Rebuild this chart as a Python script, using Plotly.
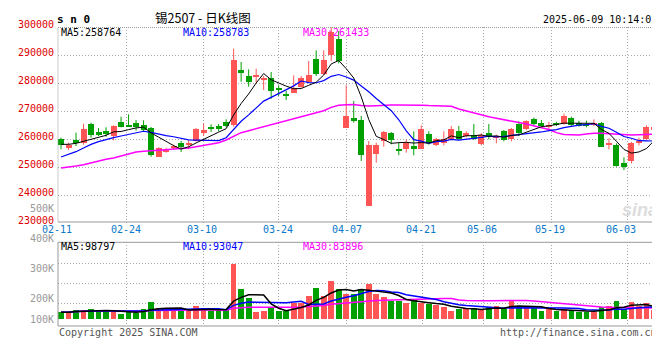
import plotly.graph_objects as go
import pandas as pd

# ---------------- data ----------------
dates = ["02-11","02-12","02-13","02-14","02-17","02-18","02-19","02-20","02-21","02-24","02-25","02-26","02-27","02-28",
         "03-03","03-04","03-05","03-06","03-07","03-10","03-11","03-12","03-13","03-14","03-17","03-18","03-19","03-20","03-21",
         "03-24","03-25","03-26","03-27","03-28","03-31",
         "04-01","04-02","04-03","04-07","04-08","04-09","04-10","04-11","04-14","04-15","04-16","04-17","04-18",
         "04-21","04-22","04-23","04-24","04-25","04-28","04-29","04-30",
         "05-06","05-07","05-08","05-09","05-12","05-13","05-14","05-15","05-16","05-19","05-20","05-21","05-22","05-23",
         "05-26","05-27","05-28","05-29","05-30",
         "06-03","06-04","06-05","06-06","06-09"]

opens = [260120,256790,259640,258450,265240,262500,262980,261070,266070,265000,
         265590,265120,263930,253690,255360,256790,258690,257980,259290,262260,
         264400,264640,266190,264880,284760,282500,282260,281190,281900,278330,
         276070,276550,278570,280480,288450,283100,290120,295600,264050,267380,
         266790,236070,254520,259290,262260,256550,256550,257500,256550,261790,
         257740,258450,260120,262980,261070,261310,258210,262260,260360,262860,
         260120,265360,263450,267020,265590,264170,265830,265360,267500,265590,
         265360,265120,265830,257860,257980,251550,252140,258690,259880,263210]
highs = [260480,258690,262260,265480,265830,263930,264170,264880,267980,268810,
         266790,266670,264290,257020,256900,257980,259290,259520,263930,265590,
         265240,265360,267020,292260,287500,284880,285120,282500,283930,279170,
         277140,282740,282500,287860,291670,291670,299900,298570,279170,273570,
         268210,259290,258690,262860,262500,258690,259880,262740,264880,262740,
         260360,262740,264640,264640,262740,265360,262020,265360,261550,263210,
         263930,266310,266670,267620,266790,266070,266190,269050,267980,266550,
         266550,267020,266070,260240,258450,253450,258930,260480,264880,264170]
lows = [256310,256070,257500,257980,260480,261070,260830,259520,264170,264400,
        262980,262500,253690,253570,255120,256310,255360,256310,259050,261070,
        262500,262740,264170,264400,280480,278690,280120,277500,274400,275360,
        273930,276550,278330,280480,282500,282860,287860,287020,264050,265830,
        252140,236070,251550,257260,258090,254170,255120,254170,256550,257980,
        257500,257740,259880,259640,260590,259640,257740,259880,258450,259170,
        259170,261070,263210,264880,264170,262740,264640,265120,264640,264400,
        264170,264640,257260,256310,250120,248930,251310,257740,259640,261670]
closes = [257860,257740,258450,263690,261310,261310,261790,264640,264400,264520,
          264400,263210,254400,256790,256310,257500,257020,258450,263690,263210,
          263450,263450,264640,288210,283690,280480,282980,281550,277020,277500,
          275360,278330,281900,282740,283100,288100,298210,287980,268210,266430,
          254400,257860,257860,262500,259640,255590,258450,256550,263450,258450,
          260120,259880,263690,260120,262020,260120,261310,261070,261070,259640,
          263450,262020,266310,265240,264880,265120,264880,268210,265120,264640,
          264640,265360,257260,258330,250360,250120,258690,259400,264400,264170]
volumes = [52340,52340,70660,70660,78510,57570,57570,62810,39260,62810,
           47110,78510,133470,83740,75890,60190,75890,60190,102060,83740,
           60190,60190,68040,426570,235530,162250,54960,62810,81130,62810,
           62810,123000,120380,180570,243380,180570,298340,235530,196280,191040,
           235530,274790,196280,172720,138700,138700,120380,146550,120380,115150,
           104680,94210,62810,73280,81130,86360,70660,94210,102060,73280,
           149170,94210,94210,81130,62810,81130,57570,73280,70660,54960,
           54960,52340,94210,102060,141320,73280,133470,99450,120380,65430]

# moving averages at the start of the window (they depend on earlier sessions)
ma5_head = [258100, 258100, 258450, 259170]
ma10_head = [253570, 254400, 255470, 256790, 258090, 259050, 259880, 260480, 261070]
ma30_head = [249640, 249880, 250360, 250830, 251550, 252140, 252740, 253210, 253930, 254640,
             255360, 255590, 255710, 255950, 256190, 256430, 256550, 256790, 257260, 257740,
             258210, 258690, 259640, 261070, 262260, 262980, 263690, 264170, 265120]

tick_labels = ["02-11", "02-24", "03-10", "03-24", "04-07", "04-21", "05-06", "05-19", "06-03"]
price_ticks = [300000, 290000, 280000, 270000, 260000, 250000, 240000, 230000]
vol_tick_labels = ["500K", "400K", "300K", "200K", "100K"]

head_main = ["MA5:258764", "MA10:258783", "MA30:261433"]
head_vol = ["MA5:98797", "MA10:93047", "MA30:83896"]

# ---------------- derived ----------------
n = len(closes)
idx = list(range(n))
cs = pd.Series(closes, dtype=float)
ma5 = cs.rolling(5).mean().tolist()
ma10 = cs.rolling(10).mean().tolist()
ma30 = cs.rolling(30).mean().tolist()
ma5[:len(ma5_head)] = ma5_head
ma10[:len(ma10_head)] = ma10_head
ma30[:len(ma30_head)] = ma30_head
vs = pd.Series(volumes, dtype=float)
vma5 = vs.rolling(5, min_periods=1).mean().tolist()
vma10 = vs.rolling(10, min_periods=1).mean().tolist()
vma30 = vs.rolling(30, min_periods=1).mean().tolist()

# ---------------- geometry ----------------
W, H = 660, 360
def px(x): return x / W
def py(y): return 1 - y / H

X0, DX = 53.0, 7.506          # pixel of first candle, pixel step
def xi(p): return (p - X0) / DX
x_range = [xi(50), xi(650)]
grid_px = [118, 195, 270.7, 338.7, 414.7, 475.7, 543.3, 619.3]
label_px = [49, 117.5, 193.7, 269.5, 339, 413, 474.3, 542, 613.3]
grid_x = [xi(g) for g in grid_px]

VPP = 7850.0   # volume per pixel
vol_range = [-7 * VPP, (311 - 234.3) * VPP]
vol_grid = [(311 - g) * VPP for g in (255.7, 275.7, 295.7)]

RED = '#ff5555'
GREEN = '#00a000'
MONO = 'DejaVu Sans Mono'

fig = go.Figure()
up = [c >= o for o, c in zip(opens, closes)]

for flag, col in ((True, RED), (False, GREEN)):
    sel = [i for i in idx if up[i] == flag]
    xs, ys = [], []
    for i in sel:
        xs += [i, i, None]
        ys += [lows[i], highs[i], None]
    fig.add_trace(go.Scatter(x=xs, y=ys, mode='lines', line=dict(color=col, width=1),
                             xaxis='x', yaxis='y', hoverinfo='skip'))
    fig.add_trace(go.Bar(x=sel, y=[max(abs(closes[i] - opens[i]), 360) for i in sel],
                         base=[min(opens[i], closes[i]) for i in sel], width=0.8,
                         marker=dict(color=col, line=dict(width=0)), xaxis='x', yaxis='y'))
    fig.add_trace(go.Bar(x=sel, y=[volumes[i] for i in sel], width=0.76,
                         marker=dict(color=col, line=dict(width=0)), xaxis='x2', yaxis='y2'))

for vals, col, w in ((ma30, '#ff00ff', 1.5), (ma10, '#0000ff', 1.2), (ma5, '#000000', 1)):
    fig.add_trace(go.Scatter(x=idx, y=vals, mode='lines', line=dict(color=col, width=w),
                             xaxis='x', yaxis='y', hoverinfo='skip'))
for vals, col, w in ((vma30, '#ff00ff', 1.5), (vma10, '#0000ff', 1.5), (vma5, '#000000', 1.5)):
    fig.add_trace(go.Scatter(x=idx, y=vals, mode='lines', line=dict(color=col, width=w),
                             xaxis='x2', yaxis='y2', hoverinfo='skip'))

gridstyle = dict(showgrid=True, gridcolor='#a8a8a8', griddash='1px,2px', gridwidth=1,
                 zeroline=False, showline=False, ticks='', showticklabels=False, fixedrange=True)

fig.update_layout(
    width=W, height=H, margin=dict(l=0, r=0, t=0, b=0),
    paper_bgcolor='white', plot_bgcolor='white', showlegend=False,
    barmode='overlay', bargap=0,
    xaxis=dict(domain=[px(50), px(650)], range=x_range, tickvals=grid_x, anchor='y', **gridstyle),
    yaxis=dict(domain=[py(215), py(19)], range=[230000, 300000],
               tickvals=price_ticks[1:-1], anchor='x', **gridstyle),
    xaxis2=dict(domain=[px(50), px(650)], range=x_range, tickvals=grid_x, anchor='y2', **gridstyle),
    yaxis2=dict(domain=[py(318), py(234.3)], range=vol_range, tickvals=vol_grid, anchor='x2', **gridstyle),
)

# frames
B = '#999999'
shapes = [
    dict(type='line', xref='paper', yref='paper', x0=px(50), x1=px(649.5), y0=py(19.5), y1=py(19.5),
         line=dict(color=B, width=1, dash='1px,1px')),
    dict(type='line', xref='paper', yref='paper', x0=px(50), x1=px(50), y0=py(19.5), y1=py(214),
         line=dict(color=B, width=1, dash='1px,1px')),
    dict(type='line', xref='paper', yref='paper', x0=px(50), x1=px(649.5), y0=py(214), y1=py(214),
         line=dict(color=B, width=1)),
    dict(type='line', xref='paper', yref='paper', x0=px(649.5), x1=px(649.5), y0=py(19.5), y1=py(214),
         line=dict(color=B, width=2)),
    dict(type='rect', xref='paper', yref='paper', x0=px(50), x1=px(649.5), y0=py(318), y1=py(234.3),
         line=dict(color=B, width=1)),
    dict(type='line', xref='paper', yref='paper', x0=px(649.5), x1=px(649.5), y0=py(318), y1=py(234.3),
         line=dict(color=B, width=2)),
]
fig.update_layout(shapes=shapes)

ann = []
def A(text, x, y, color='#000000', size=10, xa='left', family=MONO, **kw):
    ann.append(dict(text=text, x=px(x), y=py(y), xref='paper', yref='paper', xanchor=xa, yanchor='middle',
                    showarrow=False, borderpad=0, font=dict(family=family, size=size, color=color), **kw))

A('<b>s n 0</b>', 48, 12, size=11)
A('锡2507 - 日K线图', 195, 9, size=12.5, xa='center', family='Noto Sans CJK SC')
A('2025-06-09 10:14:02', 650, 12, xa='right')
for t, x, c in zip(head_main, (52, 174, 294), ('#000000', '#0000ff', '#ff00ff')):
    A(t, x, 24.5, color=c)
for t, x, c in zip(head_vol, (52, 174, 294), ('#000000', '#0000ff', '#ff00ff')):
    A(t, x, 238.7, color=c)
for v in price_ticks:
    A(str(v), 47, 19 + (300000 - v) / 10000 * 28 - 2.8, color='#dd0000', xa='right')
for t, y in zip(vol_tick_labels, (200.3, 230.3, 260.3, 290.7, 311.3)):
    A(t, 47, y, color='#999999', xa='right')
for t, x in zip(tick_labels, label_px):
    A(t, x, 221, color='#0a78c8', xa='center')
A('Copyright 2025 SINA.COM', 49.5, 324, color='#555555')
A('http://finance.sina.com.cn', 650, 324, color='#555555', xa='right')
A('<i><b>sina</b></i>', 632, 202, color='#dcdcdc', size=18, xa='center', family='Liberation Sans')
fig.update_layout(annotations=ann)

fig.write_html('out.html')
